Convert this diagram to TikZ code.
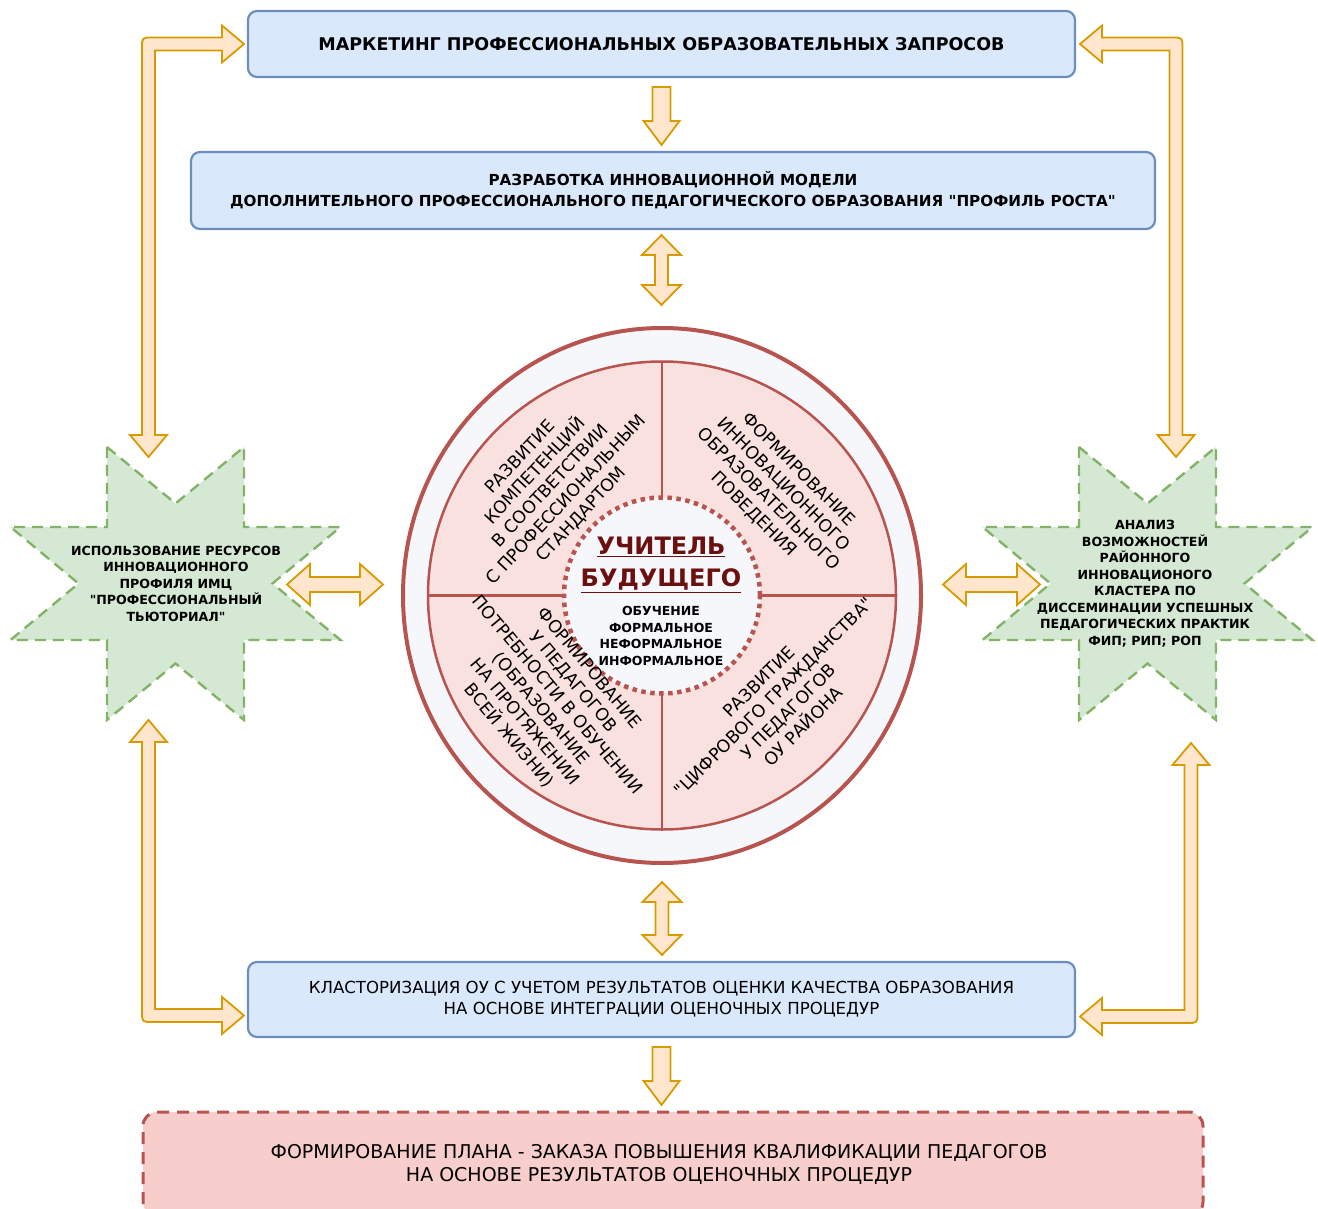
\documentclass[tikz,border=0pt]{standalone}
\usepackage{fontspec}
\setmainfont{DejaVu Sans}[Ligatures=TeXOff]
\usetikzlibrary{calc,shapes.geometric}
\definecolor{bluefill}{HTML}{DAE8FC}
\definecolor{bluedraw}{HTML}{6C8EBF}
\definecolor{orfill}{HTML}{FFE6CC}
\definecolor{ordraw}{HTML}{D79B00}
\definecolor{grfill}{HTML}{D5E8D4}
\definecolor{grdraw}{HTML}{82B366}
\definecolor{rddraw}{HTML}{B85450}
\definecolor{rdfill}{HTML}{F8CECC}
\definecolor{secfill}{HTML}{F9E1DF}
\definecolor{ringfill}{HTML}{F6F7FB}
\definecolor{titlecol}{HTML}{6B0F0F}
\tikzset{
  every node/.style={outer sep=0pt},
  bluebox/.style={draw=bluedraw, fill=bluefill, line width=2.2pt, rounded corners=9pt, inner sep=0pt, align=center},
  planbox/.style={draw=rddraw, fill=rdfill, line width=3pt, dash pattern=on 12pt off 8pt, rounded corners=14pt, inner sep=0pt},
  blockarrow/.style={draw=ordraw, fill=orfill, line width=1.8pt, line join=miter},
  starshape/.style={draw=grdraw, fill=grfill, line width=2.4pt, dash pattern=on 11pt off 7pt},
  startext/.style={align=center, inner sep=0pt, font=\fontsize{12.6}{16.5}\selectfont\bfseries},
  quadtext/.style={align=center, inner sep=0pt, font=\fontsize{17.3}{21}\selectfont},
}
\newcommand\myDown[2]{\filldraw[blockarrow] let \p1=(#1), \p2=(#2) in (\x1-9pt,\y1) -- (\x1+9pt,\y1) -- (\x1+9pt,\y2+24pt) -- (\x1+18pt,\y2+24pt) -- (\x1,\y2) -- (\x1-18pt,\y2+24pt) -- (\x1-9pt,\y2+24pt) -- cycle;}
\newcommand\myVD[2]{\filldraw[blockarrow] let \p1=(#1), \p2=(#2) in (\x1,\y1) -- (\x1+19.5pt,\y1-20pt) -- (\x1+6.5pt,\y1-20pt) -- (\x1+6.5pt,\y2+20pt) -- (\x1+19.5pt,\y2+20pt) -- (\x1,\y2) -- (\x1-19.5pt,\y2+20pt) -- (\x1-6.5pt,\y2+20pt) -- (\x1-6.5pt,\y1-20pt) -- (\x1-19.5pt,\y1-20pt) -- cycle;}
\newcommand\myHD[2]{\filldraw[blockarrow] let \p1=(#1), \p2=(#2) in (\x1,\y1) -- (\x1+23pt,\y1+20.5pt) -- (\x1+23pt,\y1+7.5pt) -- (\x2-23pt,\y1+7.5pt) -- (\x2-23pt,\y1+20.5pt) -- (\x2,\y1) -- (\x2-23pt,\y1-20.5pt) -- (\x2-23pt,\y1-7.5pt) -- (\x1+23pt,\y1-7.5pt) -- (\x1+23pt,\y1-20.5pt) -- cycle;}
\begin{document}
\begin{tikzpicture}[x=1pt,y=-1pt]
\useasboundingbox (0,0) rectangle (1318,1209);
\clip (0,0) rectangle (1318,1209);

% ---------- boxes ----------
\node[bluebox, minimum width=827pt, minimum height=66pt, font=\fontsize{17.5}{21}\selectfont\bfseries] (mkt) at (661.5,44) {МАРКЕТИНГ ПРОФЕССИОНАЛЬНЫХ ОБРАЗОВАТЕЛЬНЫХ ЗАПРОСОВ};
\node[bluebox, minimum width=964pt, minimum height=77pt, font=\fontsize{15.2}{21}\selectfont\bfseries] (dev) at (673,190.5) {РАЗРАБОТКА ИННОВАЦИОННОЙ МОДЕЛИ\\ДОПОЛНИТЕЛЬНОГО ПРОФЕССИОНАЛЬНОГО ПЕДАГОГИЧЕСКОГО ОБРАЗОВАНИЯ "ПРОФИЛЬ РОСТА"};
\node[bluebox, minimum width=827pt, minimum height=75pt, font=\fontsize{16.6}{21}\selectfont] (clu) at (661.5,999.5) {КЛАСТОРИЗАЦИЯ ОУ С УЧЕТОМ РЕЗУЛЬТАТОВ ОЦЕНКИ КАЧЕСТВА ОБРАЗОВАНИЯ\\НА ОСНОВЕ ИНТЕГРАЦИИ ОЦЕНОЧНЫХ ПРОЦЕДУР};
\node[planbox, minimum width=1060pt, minimum height=104pt] (plan) at (673,1164) {};
\node[align=center, inner sep=0pt, font=\fontsize{19}{23}\selectfont] (plantxt) at (659,1164) {ФОРМИРОВАНИЕ ПЛАНА - ЗАКАЗА ПОВЫШЕНИЯ КВАЛИФИКАЦИИ ПЕДАГОГОВ\\НА ОСНОВЕ РЕЗУЛЬТАТОВ ОЦЕНОЧНЫХ ПРОЦЕДУР};

% ---------- circle ----------
\node[ellipse, draw=rddraw, fill=ringfill, line width=4pt, minimum width=518pt, minimum height=535pt, inner sep=0pt] (circ) at (662,595.5) {};
\fill[secfill] (circ.center) circle[radius=234];
\draw[rddraw, line width=2.5pt] (circ.center) circle[radius=234];
\draw[rddraw, line width=2.5pt] ($(circ.center)+(0,-234)$) -- ($(circ.center)+(0,234)$);
\draw[rddraw, line width=2.5pt] ($(circ.center)+(-234,0)$) -- ($(circ.center)+(234,0)$);
\node[circle, draw=rddraw, fill=ringfill, line width=4.5pt, dash pattern=on 4.5pt off 4.5pt, minimum size=196pt, inner sep=0pt] (core) at (circ.center) {};
\node[align=center, inner sep=0pt, text=titlecol, font=\fontsize{24}{32}\selectfont\bfseries] (title) at (661,565) {\underline{УЧИТЕЛЬ}\\\underline{БУДУЩЕГО}};
\node[align=center, inner sep=0pt, font=\fontsize{12.5}{16.5}\selectfont\bfseries] (sub) at (661,636) {ОБУЧЕНИЕ\\ФОРМАЛЬНОЕ\\НЕФОРМАЛЬНОЕ\\ИНФОРМАЛЬНОЕ};

\node[quadtext, rotate=47] (q1) at (551,486) {РАЗВИТИЕ\\КОМПЕТЕНЦИЙ\\В СООТВЕТСТВИИ\\С ПРОФЕССИОНАЛЬНЫМ\\СТАНДАРТОМ};
\node[quadtext, rotate=-45] (q2) at (776,492) {ФОРМИРОВАНИЕ\\ИННОВАЦИОННОГО\\ОБРАЗОВАТЕЛЬНОГО\\ПОВЕДЕНИЯ};
\node[quadtext, rotate=-50] (q3) at (549,702) {ФОРМИРОВАНИЕ\\У ПЕДАГОГОВ\\ПОТРЕБНОСТИ В ОБУЧЕНИИ\\(ОБРАЗОВАНИЕ\\НА ПРОТЯЖЕНИИ\\ВСЕЙ ЖИЗНИ)};
\node[quadtext, rotate=45] (q4) at (781,704) {РАЗВИТИЕ\\"ЦИФРОВОГО ГРАЖДАНСТВА"\\У ПЕДАГОГОВ\\ОУ РАЙОНА};

% ---------- stars ----------
\coordinate (lsc) at (175.5,583.5);
\coordinate (rsc) at (1147.5,583.5);
\foreach \c in {lsc,rsc}{
  \draw[starshape, shift={(\c)}] (-68.5,-136.5) -- (0,-80) -- (68.5,-136.5) -- (68.5,-56.5) -- (165,-56.5) -- (97,0) -- (165,56.5) -- (68.5,56.5) -- (68.5,136.5) -- (0,80) -- (-68.5,136.5) -- (-68.5,56.5) -- (-165,56.5) -- (-97,0) -- (-165,-56.5) -- (-68.5,-56.5) -- cycle;
}
\node[startext] (lstar) at ($(lsc)+(0.5,0)$) {ИСПОЛЬЗОВАНИЕ РЕСУРСОВ\\ИННОВАЦИОННОГО\\ПРОФИЛЯ ИМЦ\\"ПРОФЕССИОНАЛЬНЫЙ\\ТЬЮТОРИАЛ"};
\node[startext] (rstar) at ($(rsc)+(-2.5,0)$) {АНАЛИЗ\\ВОЗМОЖНОСТЕЙ\\РАЙОННОГО\\ИННОВАЦИОНОГО\\КЛАСТЕРА ПО\\ДИССЕМИНАЦИИ УСПЕШНЫХ\\ПЕДАГОГИЧЕСКИХ ПРАКТИК\\ФИП; РИП; РОП};

% ---------- straight block arrows ----------
\coordinate (a1s) at ($(mkt.south)+(0,10)$);
\coordinate (a1e) at ($(dev.north)+(-11.5,-7)$);
\myDown{a1s}{a1e}
\coordinate (a2s) at ($(dev.south)+(-11.5,6)$);
\coordinate (a2e) at ($(circ.north)+(0,-23)$);
\myVD{a2s}{a2e}
\coordinate (a3s) at ($(circ.south)+(0,19)$);
\coordinate (a3e) at ($(clu.north)+(0,-7)$);
\myVD{a3s}{a3e}
\coordinate (a4s) at ($(clu.south)+(0,10)$);
\coordinate (a4e) at ($(plan.north)+(-11.5,-7)$);
\myDown{a4s}{a4e}
\coordinate (h1s) at ($(lsc)+(111.5,1)$);
\coordinate (h1e) at ($(circ.west)+(-20,-11)$);
\myHD{h1s}{h1e}
\coordinate (h2s) at ($(circ.east)+(22,-11)$);
\coordinate (h2e) at ($(rsc)+(-107.5,1)$);
\myHD{h2s}{h2e}

% ---------- elbow block arrows ----------
\coordinate (eTLa) at ($(mkt.west)+(-4,0)$);
\coordinate (eTLb) at ($(lsc)+(-27,-126.5)$);
\filldraw[blockarrow] let \p1=(eTLa), \p2=(eTLb) in (\x1,\y1) -- (\x1-22pt,\y1+18.5pt) -- (\x1-22pt,\y1+6.5pt) -- (\x2+4pt,\y1+6.5pt) .. controls (\x2-6.5pt,\y1+6.5pt) .. (\x2-6.5pt,\y1-4pt) -- (\x2-6.5pt,\y2+22pt) -- (\x2-18.5pt,\y2+22pt) -- (\x2,\y2) -- (\x2+18.5pt,\y2+22pt) -- (\x2+6.5pt,\y2+22pt) -- (\x2+6.5pt,\y1-6.5pt) -- (\x1-22pt,\y1-6.5pt) -- (\x1-22pt,\y1-18.5pt) -- cycle;

\coordinate (eTRa) at ($(mkt.east)+(5,0)$);
\coordinate (eTRb) at ($(rsc)+(28.5,-126.5)$);
\filldraw[blockarrow] let \p1=(eTRa), \p2=(eTRb) in (\x1,\y1) -- (\x1+22pt,\y1+18.5pt) -- (\x1+22pt,\y1+6.5pt) -- (\x2-4pt,\y1+6.5pt) .. controls (\x2+6.5pt,\y1+6.5pt) .. (\x2+6.5pt,\y1-4pt) -- (\x2+6.5pt,\y2+22pt) -- (\x2+18.5pt,\y2+22pt) -- (\x2,\y2) -- (\x2-18.5pt,\y2+22pt) -- (\x2-6.5pt,\y2+22pt) -- (\x2-6.5pt,\y1-6.5pt) -- (\x1+22pt,\y1-6.5pt) -- (\x1+22pt,\y1-18.5pt) -- cycle;

\coordinate (eBLa) at ($(clu.west)+(-4,16)$);
\coordinate (eBLb) at ($(lsc)+(-27,136.5)$);
\filldraw[blockarrow] let \p1=(eBLa), \p2=(eBLb) in (\x1,\y1) -- (\x1-22pt,\y1-18.5pt) -- (\x1-22pt,\y1-6.5pt) -- (\x2+4pt,\y1-6.5pt) .. controls (\x2-6.5pt,\y1-6.5pt) .. (\x2-6.5pt,\y1+4pt) -- (\x2-6.5pt,\y2-22pt) -- (\x2-18.5pt,\y2-22pt) -- (\x2,\y2) -- (\x2+18.5pt,\y2-22pt) -- (\x2+6.5pt,\y2-22pt) -- (\x2+6.5pt,\y1+6.5pt) -- (\x1-22pt,\y1+6.5pt) -- (\x1-22pt,\y1+18.5pt) -- cycle;

\coordinate (eBRa) at ($(clu.east)+(5,17)$);
\coordinate (eBRb) at ($(rsc)+(43.5,159.5)$);
\filldraw[blockarrow] let \p1=(eBRa), \p2=(eBRb) in (\x1,\y1) -- (\x1+22pt,\y1-18.5pt) -- (\x1+22pt,\y1-6.5pt) -- (\x2-4pt,\y1-6.5pt) .. controls (\x2+6.5pt,\y1-6.5pt) .. (\x2+6.5pt,\y1+4pt) -- (\x2+6.5pt,\y2-22pt) -- (\x2+18.5pt,\y2-22pt) -- (\x2,\y2) -- (\x2-18.5pt,\y2-22pt) -- (\x2-6.5pt,\y2-22pt) -- (\x2-6.5pt,\y1+6.5pt) -- (\x1+22pt,\y1+6.5pt) -- (\x1+22pt,\y1+18.5pt) -- cycle;
\end{tikzpicture}
\end{document}
